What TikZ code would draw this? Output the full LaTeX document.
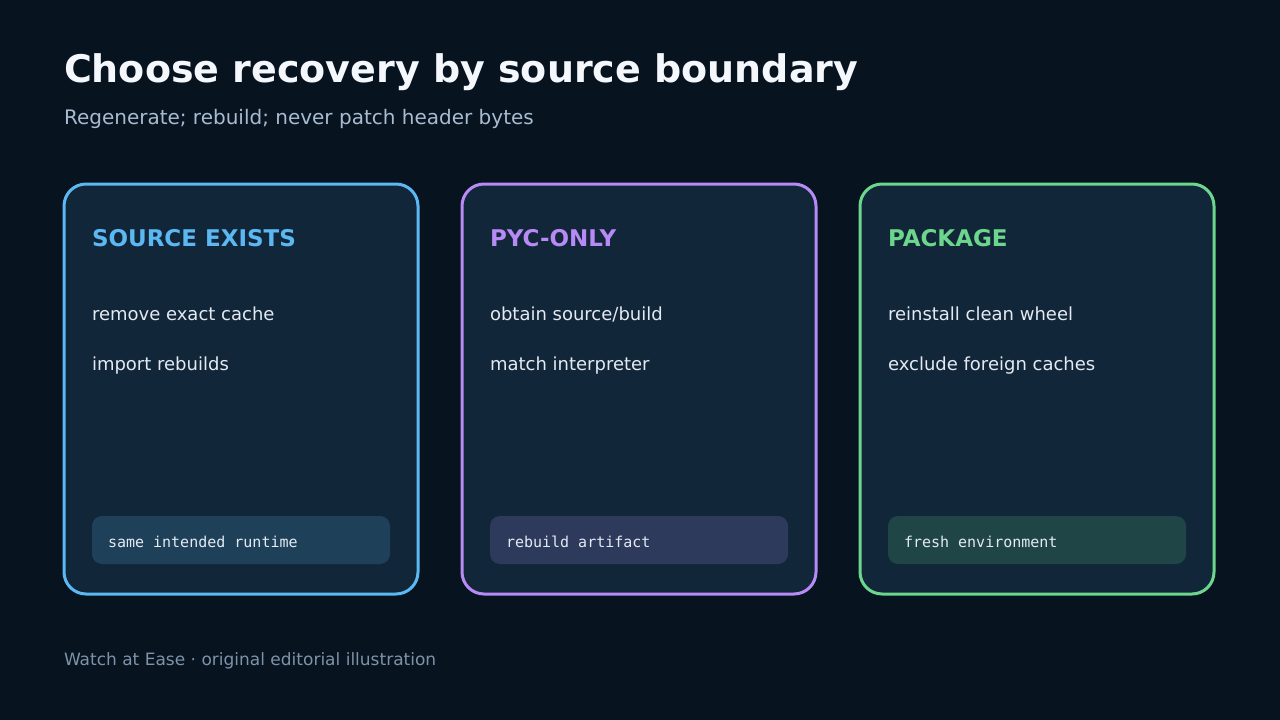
\documentclass[tikz,border=0pt]{standalone}
\usepackage{fontspec}
\setmainfont{DejaVu Sans}
\setmonofont{DejaVu Sans Mono}
\definecolor{bg}{HTML}{07131F}
\definecolor{cardfill}{HTML}{12263A}
\definecolor{cblue}{HTML}{5BB8F2}
\definecolor{cpurple}{HTML}{B78AF5}
\definecolor{cgreen}{HTML}{6CD68C}
\definecolor{pblue}{HTML}{1E4059}
\definecolor{ppurple}{HTML}{2D3A5C}
\definecolor{pgreen}{HTML}{1F4546}
\definecolor{titlec}{HTML}{F4F7FB}
\definecolor{subc}{HTML}{A8BBD0}
\definecolor{bodyc}{HTML}{E3EAF2}
\definecolor{footc}{HTML}{7E92A8}
\tikzset{
  txt/.style={anchor=base west, inner sep=0pt, outer sep=0pt},
  card/.style={draw=#1, line width=3pt, fill=cardfill, rounded corners=22pt},
  pill/.style={fill=#1, rounded corners=10pt},
  head/.style={txt, text=#1, font=\fontsize{23}{27}\selectfont\bfseries},
  body/.style={txt, text=bodyc, font=\fontsize{18}{22}\selectfont},
  mono/.style={txt, text=bodyc, font=\fontsize{15}{18}\ttfamily},
}
\begin{document}
\begin{tikzpicture}[x=1pt, y=-1pt]
\fill[bg] (0,0) rectangle (1280,720);
\useasboundingbox (0,0) rectangle (1280,720);
\node[txt, text=titlec, font=\fontsize{38}{44}\selectfont\bfseries] (title) at (64,82) {Choose recovery by source boundary};
\node[txt, text=subc, font=\fontsize{20}{24}\selectfont] (sub) at (64,124) {Regenerate; rebuild; never patch header bytes};
% card 1
\draw[card=cblue] (64,184) rectangle (418,594);
\fill[pill=pblue] (92,516) rectangle (390,564);
\node[head=cblue] (h1) at (92,246) {SOURCE EXISTS};
\node[body] (a1) at (92,320) {remove exact cache};
\node[body] (b1) at (92,370) {import rebuilds};
\node[mono] (p1) at (108,547) {same intended runtime};
% card 2
\draw[card=cpurple] (462,184) rectangle (816,594);
\fill[pill=ppurple] (490,516) rectangle (788,564);
\node[head=cpurple] (h2) at (490,246) {PYC-ONLY};
\node[body] (a2) at (490,320) {obtain source/build};
\node[body] (b2) at (490,370) {match interpreter};
\node[mono] (p2) at (506,547) {rebuild artifact};
% card 3
\draw[card=cgreen] (860,184) rectangle (1214,594);
\fill[pill=pgreen] (888,516) rectangle (1186,564);
\node[head=cgreen] (h3) at (888,246) {PACKAGE};
\node[body] (a3) at (888,320) {reinstall clean wheel};
\node[body] (b3) at (888,370) {exclude foreign caches};
\node[mono] (p3) at (904,547) {fresh environment};
\node[txt, text=footc, font=\fontsize{17}{20}\selectfont] (foot) at (64,665) {Watch at Ease · original editorial illustration};
\end{tikzpicture}
\end{document}
